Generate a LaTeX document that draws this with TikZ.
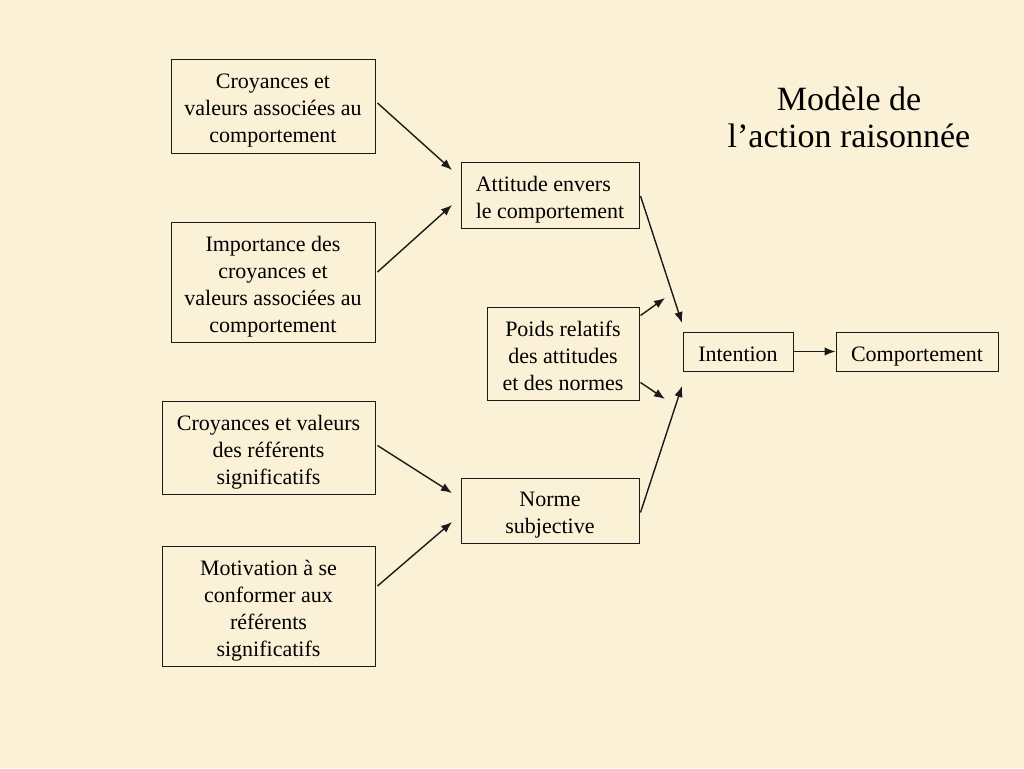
\documentclass[tikz,border=0pt]{standalone}
\usepackage{fontspec}
\setmainfont{Liberation Serif}
\usetikzlibrary{arrows.meta}
\definecolor{parch}{HTML}{FBF1D6}
\definecolor{ink}{HTML}{1A1A1A}
\newcommand\bstr{\rule{0pt}{24pt}}
\newcommand\estr{\rule[-4.8pt]{0pt}{4.8pt}}
\begin{document}
\begin{tikzpicture}[x=1pt,y=-1pt,
  box/.style={draw=ink, line width=1pt, inner sep=0pt, align=center,
    font=\fontsize{22}{27}\selectfont, text=black},
  arr/.style={draw=ink, line width=1.4pt, -{Latex[length=11pt,width=8.5pt]}}]
\fill[parch] (0,0) rectangle (1024,768);
\useasboundingbox (0,0) rectangle (1024,768);

\node[box, minimum width=204pt, minimum height=94pt] (b1) at (273,106)
  {\bstr Croyances et\\valeurs associées au\\comportement\estr};
\node[box, minimum width=204pt, minimum height=120pt] (b2) at (273,282)
  {\bstr Importance des\\croyances et\\valeurs associées au\\comportement\estr};
\node[box, minimum width=213pt, minimum height=93pt] (b3) at (268.5,447.5)
  {\bstr Croyances et valeurs\\des référents\\significatifs\estr};
\node[box, minimum width=213pt, minimum height=120pt] (b4) at (268.5,606)
  {\bstr Motivation à se\\conformer aux\\référents\\significatifs\estr};
\node[box, minimum width=178pt, minimum height=66pt, align=left] (att) at (550,195)
  {\bstr Attitude envers\\le comportement\estr};
\node[box, minimum width=152pt, minimum height=93pt] (poids) at (563,353.5)
  {\bstr Poids relatifs\\des attitudes\\et des normes\estr};
\node[box, minimum width=178pt, minimum height=65pt] (norme) at (550,510.5)
  {\bstr Norme\\subjective\estr};
\node[box, minimum width=110pt, minimum height=39pt] (int) at (738,351.5)
  {\bstr Intention\estr};
\node[box, minimum width=162pt, minimum height=39pt] (comp) at (917,351.5)
  {\bstr Comportement\estr};
\node[align=center, font=\fontsize{34}{37}\selectfont, text=black] (title) at (849,117)
  {Modèle de\\l’action raisonnée};

\coordinate (e1) at (452,170);
\coordinate (e2) at (452,205);
\coordinate (e3) at (452,493);
\coordinate (e4) at (452,522);
\coordinate (e5) at (682,323);
\coordinate (e6) at (665,298);
\coordinate (e7) at (665,399);
\coordinate (e8) at (682,386);

\draw[arr] ([shift={(2pt,3pt)}]b1.east) -- (e1);
\draw[arr] ([shift={(2pt,10pt)}]b2.east) -- (e2);
\draw[arr] ([shift={(2pt,2pt)}]b3.east) -- (e3);
\draw[arr] ([shift={(2pt,20pt)}]b4.east) -- (e4);
\draw[arr] ([shift={(1pt,-1pt)}]att.east) -- (e5);
\draw[arr] ([shift={(1pt,38pt)}]poids.east) -- (e6);
\draw[arr] ([shift={(1pt,-29pt)}]poids.east) -- (e7);
\draw[arr] ([shift={(1pt,-2pt)}]norme.east) -- (e8);
\draw[arr] (int.east) -- (comp.west);
\end{tikzpicture}
\end{document}
